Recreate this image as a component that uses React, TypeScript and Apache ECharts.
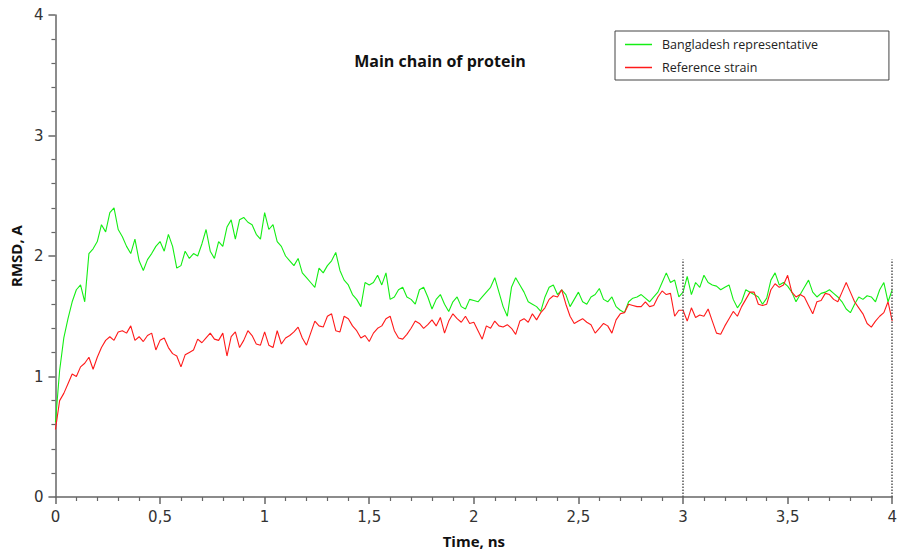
import React, { useEffect, useRef } from "react";
import * as echarts from "echarts";

// Sampling step of the trajectories (ns)
const TIME_STEP = 0.02;

// RMSD (Å) of the main chain, Bangladesh representative, sampled every 0.02 ns from 0 to 4 ns
const bangladesh: number[] = [
  0.62, 1.05, 1.32, 1.48, 1.62, 1.72, 1.76, 1.62, 2.02, 2.06,
  2.12, 2.26, 2.20, 2.36, 2.40, 2.22, 2.16, 2.08, 2.02, 2.14,
  1.96, 1.88, 1.97, 2.02, 2.08, 2.12, 2.04, 2.18, 2.08, 1.90,
  1.92, 2.04, 1.98, 2.02, 2.00, 2.10, 2.22, 2.04, 1.98, 2.12,
  2.08, 2.24, 2.30, 2.14, 2.30, 2.32, 2.28, 2.26, 2.18, 2.14,
  2.36, 2.22, 2.26, 2.12, 2.08, 2.00, 1.96, 1.92, 1.98, 1.86,
  1.82, 1.78, 1.74, 1.90, 1.86, 1.92, 1.96, 2.03, 1.88, 1.80,
  1.76, 1.68, 1.64, 1.58, 1.78, 1.76, 1.78, 1.84, 1.76, 1.86,
  1.64, 1.66, 1.72, 1.74, 1.66, 1.64, 1.60, 1.72, 1.74, 1.66,
  1.56, 1.64, 1.68, 1.60, 1.54, 1.62, 1.66, 1.58, 1.56, 1.64,
  1.63, 1.62, 1.66, 1.70, 1.74, 1.82, 1.70, 1.58, 1.50, 1.74,
  1.82, 1.76, 1.70, 1.62, 1.60, 1.58, 1.54, 1.66, 1.74, 1.76,
  1.68, 1.72, 1.68, 1.58, 1.64, 1.70, 1.62, 1.60, 1.66, 1.68,
  1.73, 1.64, 1.62, 1.66, 1.58, 1.55, 1.53, 1.62, 1.65, 1.66,
  1.68, 1.65, 1.62, 1.66, 1.70, 1.78, 1.86, 1.78, 1.80, 1.66,
  1.70, 1.83, 1.68, 1.78, 1.74, 1.84, 1.78, 1.76, 1.75, 1.72,
  1.74, 1.76, 1.64, 1.57, 1.62, 1.72, 1.70, 1.68, 1.66, 1.60,
  1.65, 1.80, 1.86, 1.76, 1.78, 1.75, 1.70, 1.62, 1.68, 1.74,
  1.80, 1.70, 1.66, 1.69, 1.70, 1.72, 1.69, 1.66, 1.62, 1.56,
  1.53, 1.60, 1.66, 1.64, 1.67, 1.66, 1.62, 1.72, 1.78, 1.62,
  1.72,
];

// RMSD (Å) of the main chain, reference strain
const reference: number[] = [
  0.56, 0.80, 0.86, 0.94, 1.02, 1.00, 1.08, 1.11, 1.16, 1.06,
  1.16, 1.24, 1.30, 1.33, 1.30, 1.37, 1.38, 1.36, 1.42, 1.30,
  1.33, 1.29, 1.34, 1.36, 1.22, 1.30, 1.32, 1.24, 1.19, 1.17,
  1.08, 1.18, 1.20, 1.22, 1.31, 1.28, 1.32, 1.36, 1.31, 1.30,
  1.36, 1.17, 1.33, 1.37, 1.24, 1.30, 1.38, 1.34, 1.27, 1.26,
  1.37, 1.26, 1.24, 1.38, 1.27, 1.32, 1.34, 1.37, 1.41, 1.32,
  1.26, 1.36, 1.46, 1.42, 1.41, 1.50, 1.52, 1.38, 1.37, 1.50,
  1.48, 1.42, 1.38, 1.32, 1.34, 1.29, 1.36, 1.40, 1.42, 1.48,
  1.50, 1.38, 1.32, 1.31, 1.35, 1.40, 1.46, 1.44, 1.40, 1.43,
  1.47, 1.42, 1.49, 1.36, 1.46, 1.52, 1.48, 1.45, 1.50, 1.44,
  1.45, 1.38, 1.31, 1.42, 1.40, 1.46, 1.42, 1.41, 1.43, 1.40,
  1.35, 1.46, 1.48, 1.45, 1.52, 1.47, 1.53, 1.57, 1.64, 1.67,
  1.66, 1.72, 1.60, 1.50, 1.44, 1.46, 1.48, 1.45, 1.43, 1.36,
  1.40, 1.44, 1.42, 1.36, 1.47, 1.52, 1.53, 1.60, 1.59, 1.58,
  1.58, 1.62, 1.58, 1.59, 1.66, 1.71, 1.68, 1.69, 1.50, 1.55,
  1.55, 1.46, 1.57, 1.49, 1.51, 1.50, 1.56, 1.46, 1.36, 1.35,
  1.42, 1.48, 1.54, 1.50, 1.58, 1.64, 1.70, 1.70, 1.60, 1.59,
  1.60, 1.72, 1.77, 1.74, 1.76, 1.84, 1.70, 1.66, 1.68, 1.66,
  1.59, 1.52, 1.62, 1.63, 1.69, 1.68, 1.64, 1.62, 1.70, 1.78,
  1.70, 1.62, 1.57, 1.52, 1.44, 1.41, 1.46, 1.50, 1.53, 1.62,
  1.46,
];

// Dotted marker lines: time (ns) and their top value (Å)
const markerTimes: number[] = [3, 4];
const markerTop = 1.97;

const seriesNames = ["Bangladesh representative", "Reference strain"];
const xTicks = { min: 0, max: 4, interval: 0.5 };
const yTicks = { min: 0, max: 4, interval: 1 };

const toPairs = (vals: number[]) =>
  vals.map((v, i) => [Number((i * TIME_STEP).toFixed(2)), v]);

export default function App() {
  const ref = useRef<HTMLDivElement>(null);

  useEffect(() => {
    if (!ref.current) return;
    const chart = echarts.init(ref.current, undefined, { renderer: "svg" });
    const axisColor = "#666";
    const labelStyle = {
      color: "#333",
      fontFamily: "DejaVu Sans",
      fontSize: 15,
    };
    chart.setOption({
      animation: false,
      backgroundColor: "#fff",
      grid: { left: 53, right: 5, top: 15, bottom: 56, containLabel: false },
      title: {
        text: "Main chain of protein",
        left: 435,
        top: 48,
        textAlign: "center",
        textStyle: {
          fontFamily: "Open Sans",
          fontWeight: "bold",
          fontSize: 16,
          color: "#111",
        },
      },
      legend: {
        orient: "vertical",
        left: 615,
        top: 31,
        padding: [6, 71, 5, 10],
        itemGap: 8,
        itemWidth: 27,
        itemHeight: 1.5,
        icon: "rect",
        borderColor: "#444",
        borderWidth: 1,
        backgroundColor: "#fff",
        data: seriesNames,
        textStyle: {
          fontFamily: "Open Sans",
          fontSize: 12.5,
          color: "#222",
          padding: [0, 0, 0, 5],
          lineHeight: 15,
        },
      },
      xAxis: {
        type: "value",
        ...xTicks,
        name: "Time, ns",
        nameLocation: "middle",
        nameGap: 36,
        nameTextStyle: {
          fontFamily: "Open Sans",
          fontWeight: "bold",
          fontSize: 15,
          color: "#111",
        },
        axisLine: { show: true, onZero: false, lineStyle: { color: axisColor, width: 1.5 } },
        axisTick: { show: true, length: 7, lineStyle: { color: axisColor, width: 1.5 } },
        minorTick: { show: true, splitNumber: 5, length: 4, lineStyle: { color: axisColor, width: 1.2 } },
        splitLine: { show: false },
        axisLabel: {
          ...labelStyle,
          margin: 12,
          formatter: (v: number) => String(v).replace(".", ","),
        },
      },
      yAxis: {
        type: "value",
        ...yTicks,
        name: "RMSD, A",
        nameLocation: "middle",
        nameGap: 21,
        nameRotate: 90,
        nameTextStyle: {
          fontFamily: "Open Sans",
          fontWeight: "bold",
          fontSize: 15,
          color: "#111",
        },
        axisLine: { show: true, onZero: false, lineStyle: { color: axisColor, width: 1.5 } },
        axisTick: { show: true, length: 7, lineStyle: { color: axisColor, width: 1.5 } },
        minorTick: { show: true, splitNumber: 5, length: 4, lineStyle: { color: axisColor, width: 1.2 } },
        splitLine: { show: false },
        axisLabel: { ...labelStyle, margin: 12 },
      },
      series: [
        {
          name: seriesNames[0],
          type: "line",
          data: toPairs(bangladesh),
          showSymbol: false,
          symbol: "none",
          color: "#14ee14",
          lineStyle: { width: 1.1, color: "#14ee14" },
          markLine: {
            silent: true,
            symbol: "none",
            label: { show: false },
            lineStyle: { color: "#555", type: "dotted", width: 1.5 },
            data: markerTimes.map((t) => [
              { coord: [t, 0] },
              { coord: [t, markerTop] },
            ]),
          },
        },
        {
          name: seriesNames[1],
          type: "line",
          data: toPairs(reference),
          showSymbol: false,
          symbol: "none",
          color: "#ff1a1a",
          lineStyle: { width: 1.1, color: "#ff1a1a" },
        },
      ],
    });
    return () => chart.dispose();
  }, []);

  return (
    <div
      ref={ref}
      style={{ position: "fixed", left: 0, top: 0, width: 900, height: 553 }}
    />
  );
}
